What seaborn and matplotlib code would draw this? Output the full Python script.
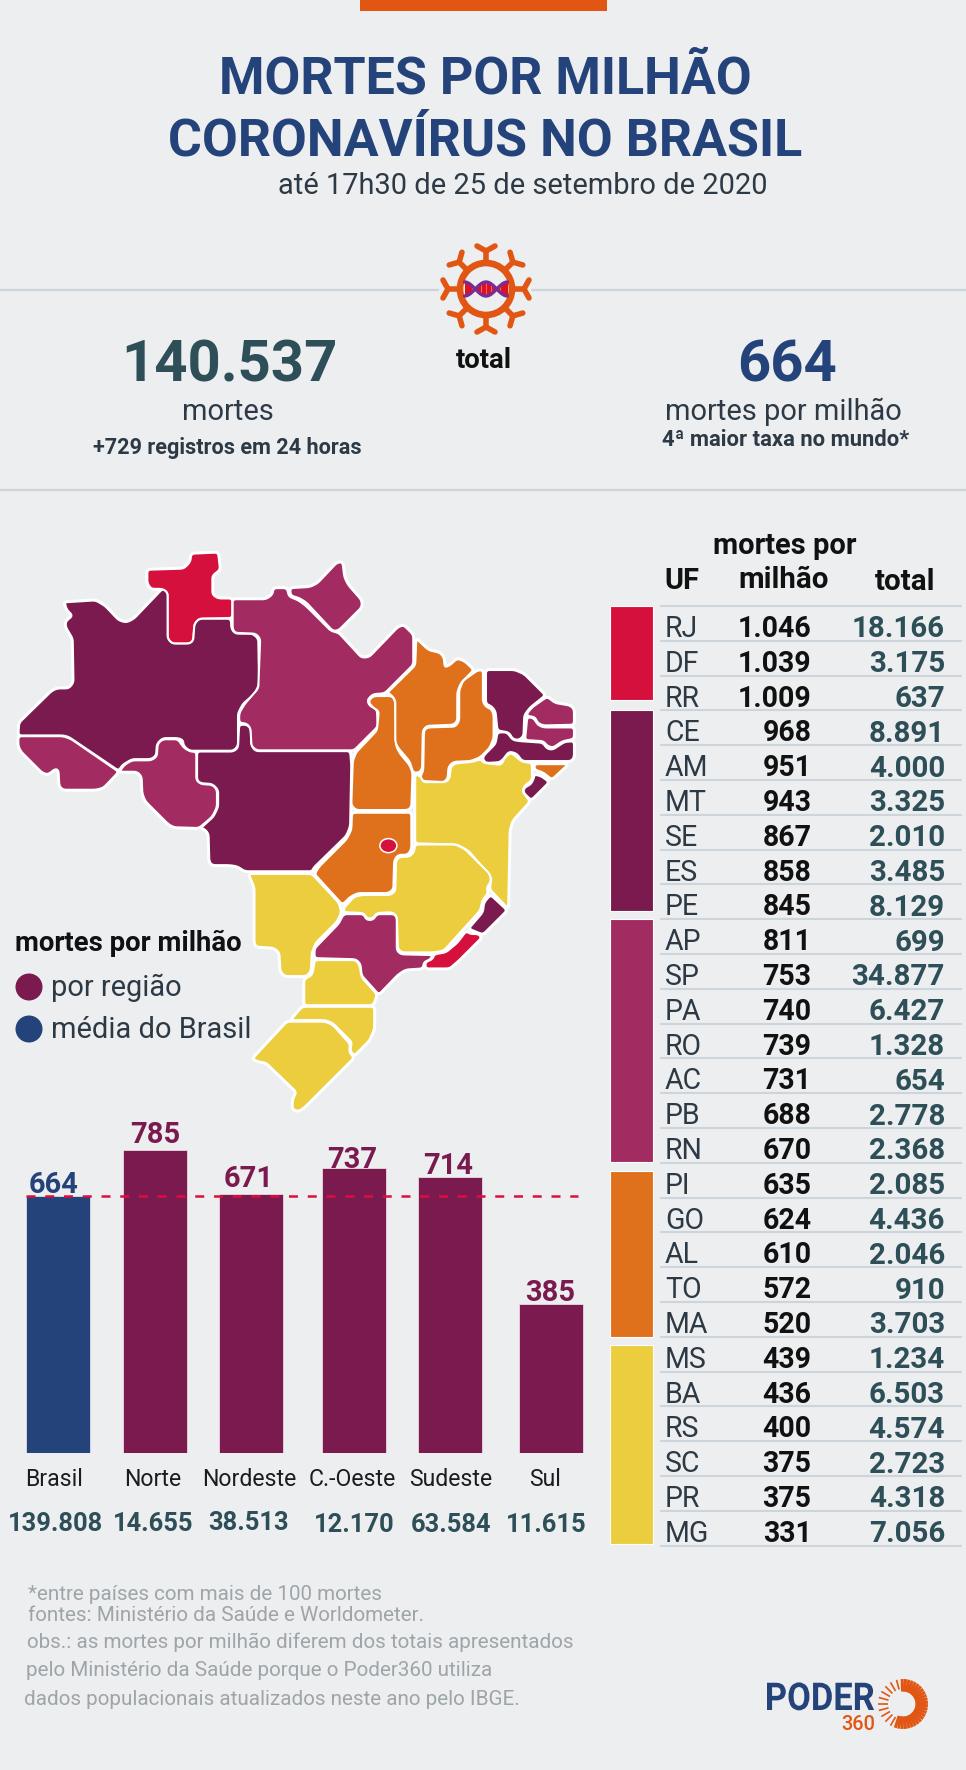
import numpy as np
import matplotlib
matplotlib.use('Agg')
import matplotlib.pyplot as plt
from matplotlib.patches import Polygon, Ellipse, Rectangle, Circle, PathPatch
from matplotlib.textpath import TextPath
from matplotlib.font_manager import FontProperties
from matplotlib.transforms import Affine2D
import seaborn as sns

# ---- data ----
UF = ['RJ', 'DF', 'RR', 'CE', 'AM', 'MT', 'SE', 'ES', 'PE', 'AP', 'SP', 'PA', 'RO', 'AC',
      'PB', 'RN', 'PI', 'GO', 'AL', 'TO', 'MA', 'MS', 'BA', 'RS', 'SC', 'PR', 'MG']
MORTES_MILHAO = ['1.046', '1.039', '1.009', '968', '951', '943', '867', '858', '845', '811', '753',
                 '740', '739', '731', '688', '670', '635', '624', '610', '572', '520', '439', '436',
                 '400', '375', '375', '331']
TOTAL_UF = ['18.166', '3.175', '637', '8.891', '4.000', '3.325', '2.010', '3.485', '8.129', '699',
            '34.877', '6.427', '1.328', '654', '2.778', '2.368', '2.085', '4.436', '2.046', '910',
            '3.703', '1.234', '6.503', '4.574', '2.723', '4.318', '7.056']
GRUPO_TAM = [3, 6, 7, 5, 6]

REGIOES = ['Brasil', 'Norte', 'Nordeste', 'C.-Oeste', 'Sudeste', 'Sul']
REGIAO_VALOR = [664, 785, 671, 737, 714, 385]
REGIAO_TOTAL = ['139.808', '14.655', '38.513', '12.170', '63.584', '11.615']

# state outlines, in map units
RR = [(385,130),(480,127),(497,110),(500,88),(570,85),(575,130),(555,145),(555,195),(570,205),(607,205),(607,256),(520,258),(508,272),(505,315),(495,323),(450,323),(438,310),(438,190),(425,180),(395,180),(385,165)]
AM = [(170,215),(250,210),(275,225),(310,262),(330,268),(350,258),(415,190),(425,180),(438,190),(438,310),(450,323),(495,323),(505,315),(508,272),(520,258),(603,258),(605,285),(615,297),(660,297),(675,310),(677,430),(665,455),(635,480),(622,505),(622,590),(610,603),(495,603),(480,590),(478,575),(465,570),(425,570),(410,585),(408,615),(395,625),(345,625),(320,640),(310,655),(180,567),(165,563),(48,563),(50,530),(135,447),(150,440),(180,440),(192,425),(190,310),(172,280),(172,265),(190,250),(175,235),(170,220)]
AC = [(48,565),(165,565),(185,572),(310,658),(270,700),(250,705),(165,705),(155,695),(153,655),(145,650),(125,665),(110,660),(55,605),(48,590)]
RO = [(312,658),(325,640),(345,628),(395,628),(410,618),(412,585),(425,573),(465,573),(480,595),(497,605),(513,606),(513,680),(525,690),(555,692),(567,705),(567,750),(555,775),(520,805),(455,803),(440,795),(380,735),(372,715),(370,670),(358,658)]
MT = [(515,605),(610,605),(622,595),(625,535),(645,535),(655,545),(657,590),(668,604),(915,604),(918,640),(915,800),(905,825),(820,908),(815,918),(640,918),(620,905),(600,902),(555,902),(547,892),(545,820),(535,808),(525,805),(558,775),(570,750),(570,705),(555,690),(525,688),(515,680)]
PA = [(608,207),(695,207),(712,195),(715,178),(750,178),(755,200),(780,210),(800,225),(865,290),(885,295),(945,360),(965,358),(1040,280),(1055,275),(1080,300),(1080,378),(1005,453),(975,455),(960,470),(965,485),(985,495),(987,540),(925,602),(670,602),(657,590),(655,545),(645,532),(625,530),(625,505),(640,480),(675,440),(680,310),(668,297),(615,295),(608,285)]
AP = [(758,178),(810,175),(830,165),(880,112),(895,110),(900,150),(910,170),(945,210),(945,228),(885,288),(870,290),(800,215),(780,203),(760,198)]
TO = [(975,460),(1025,460),(1033,475),(1035,590),(1045,610),(1070,640),(1078,660),(1075,750),(1065,758),(930,758),(918,745),(922,630),(930,608),(985,550),(990,500),(975,490),(962,475)]
MA = [(1088,310),(1120,340),(1150,347),(1160,360),(1162,385),(1175,380),(1195,362),(1215,370),(1238,392),(1205,425),(1195,450),(1195,525),(1185,535),(1115,538),(1105,550),(1103,650),(1095,660),(1080,660),(1070,630),(1040,595),(1033,580),(1033,470),(1020,455),(1012,452),(1085,380)]
PI = [(1248,393),(1262,393),(1262,475),(1270,488),(1285,495),(1290,510),(1290,570),(1280,595),(1255,620),(1230,630),(1185,632),(1172,645),(1170,675),(1160,685),(1105,682),(1098,672),(1106,655),(1108,550),(1118,542),(1190,540),(1200,525),(1200,445),(1210,420)]
CE = [(1270,392),(1345,392),(1370,403),(1425,458),(1385,490),(1370,510),(1368,565),(1355,575),(1340,572),(1330,555),(1300,550),(1295,500),(1285,487),(1270,480)]
RN = [(1430,462),(1450,478),(1490,485),(1500,495),(1500,535),(1420,537),(1405,530),(1398,515),(1378,512),(1378,505),(1390,490)]
PB = [(1378,515),(1395,518),(1405,535),(1420,542),(1500,542),(1500,572),(1470,578),(1445,595),(1430,590),(1420,578),(1372,575)]
PE = [(1300,555),(1325,555),(1340,575),(1360,578),(1418,582),(1430,598),(1445,600),(1475,580),(1500,578),(1500,620),(1492,630),(1365,630),(1350,610),(1330,605),(1315,625),(1305,633),(1270,635),(1262,625),(1265,615),(1295,585)]
AL = [(1397,638),(1485,638),(1442,678),(1420,660),(1397,652)]
SE = [(1397,665),(1415,670),(1435,685),(1388,732),(1368,712),(1370,700),(1388,690),(1395,675)]
BA = [(1085,665),(1100,670),(1105,685),(1165,685),(1175,675),(1178,645),(1190,636),(1235,632),(1255,625),(1265,635),(1310,640),(1320,620),(1335,608),(1350,620),(1365,632),(1390,635),(1390,680),(1370,695),(1365,710),(1385,735),(1340,785),(1332,810),(1328,1015),(1280,965),(1285,935),(1225,865),(1195,848),(1085,845)]
GO = [(920,765),(1075,765),(1075,860),(1065,875),(1040,875),(1030,890),(1028,965),(1015,975),(935,975),(915,985),(895,1005),(822,925),(835,905),(905,835),(918,810)]
MG = [(1085,848),(1190,848),(1215,860),(1280,925),(1283,945),(1272,960),(1275,975),(1260,995),(1255,1020),(1160,1125),(1135,1130),(1050,1130),(1040,1120),(1037,1035),(1025,1025),(985,1027),(975,1040),(960,1042),(950,1027),(900,1025),(898,1015),(925,985),(945,980),(1020,980),(1033,970),(1035,890),(1045,880),(1070,880),(1082,868)]
ES = [(1282,980),(1325,1020),(1262,1083),(1225,1068),(1262,1025),(1265,1000)]
RJ = [(1218,1075),(1230,1082),(1250,1082),(1258,1092),(1200,1150),(1175,1172),(1112,1172),(1112,1155),(1130,1148),(1135,1135),(1165,1130),(1195,1105)]
SP = [(898,1030),(950,1030),(958,1045),(975,1045),(985,1030),(1030,1030),(1037,1040),(1037,1125),(1048,1135),(1130,1137),(1125,1148),(1108,1155),(1105,1172),(1060,1175),(1040,1188),(990,1240),(945,1190),(942,1160),(930,1148),(822,1145),(822,1120),(885,1055)]
MS = [(650,925),(815,925),(885,1000),(892,1025),(880,1050),(825,1105),(815,1130),(812,1180),(800,1192),(745,1192),(733,1180),(730,1130),(715,1118),(670,1115),(665,1105),(665,960)]
PR = [(822,1150),(930,1150),(940,1165),(945,1195),(985,1240),(975,1268),(795,1268),(795,1200),(815,1190),(820,1170)]
SC = [(790,1272),(978,1272),(978,1330),(965,1360),(925,1400),(915,1385),(920,1365),(870,1315),(850,1307),(760,1307)]
RS = [(750,1311),(850,1311),(870,1320),(915,1370),(912,1390),(925,1405),(795,1535),(780,1545),(765,1540),(765,1515),(775,1495),(695,1418),(675,1415),(660,1408)]
MAPA = {'RR': RR, 'AM': AM, 'AC': AC, 'RO': RO, 'MT': MT, 'PA': PA, 'AP': AP, 'TO': TO, 'MA': MA,
        'PI': PI, 'CE': CE, 'RN': RN, 'PB': PB, 'PE': PE, 'AL': AL, 'SE': SE, 'BA': BA, 'GO': GO,
        'MG': MG, 'ES': ES, 'RJ': RJ, 'SP': SP, 'MS': MS, 'PR': PR, 'SC': SC, 'RS': RS}

# ---- style ----
BG = '#eceef0'
NAVY = '#24437a'
PURPLE = '#7a1a4e'
TEAL = '#2e4f58'
DARK = '#2d3a45'
ORANGE = '#e25613'
GRUPO_COR = ['#d6103c', PURPLE, '#a22c62', '#df711c', '#eccd3e']
RULE = '#ccd5da'

sns.set_theme(style='white')
plt.rcParams['font.family'] = ['Roboto', 'DejaVu Sans']

W, H = 966, 1770
fig = plt.figure(figsize=(W / 100, H / 100), dpi=100, facecolor=BG)

# overlay axes works in image pixels
ax = fig.add_axes([0, 0, 1, 1], facecolor='none', zorder=2)
ax.set_xlim(0, W)
ax.set_ylim(H, 0)
ax.axis('off')


def label(x, yc, s, size, **kw):
    """size in px, yc is the middle of the capitals"""
    kw.setdefault('color', DARK)
    ax.text(x, yc + 0.355 * size, s, fontsize=size * 0.72, va='baseline', **kw)


def round_corners(pts, d=9.0):
    """replace each corner with a short curve, d is how far it cuts in"""
    p = np.array(pts, dtype=float)
    out = []
    n = len(p)
    for i in range(n):
        a, b, c = p[i - 1], p[i], p[(i + 1) % n]
        d1 = min(d, 0.45 * np.linalg.norm(a - b))
        d2 = min(d, 0.45 * np.linalg.norm(c - b))
        s = b + (a - b) / np.linalg.norm(a - b) * d1
        e = b + (c - b) / np.linalg.norm(c - b) * d2
        for t in np.linspace(0, 1, 6):
            out.append((1 - t) ** 2 * s + 2 * t * (1 - t) * b + t ** 2 * e)
    return np.array(out)


# ---- header ----
ax.add_patch(Rectangle((360, 0), 247, 11, fc=ORANGE, ec='none'))
label(485, 75, 'MORTES POR MILHÃO', 52, ha='center', color=NAVY, fontweight='bold')
label(485, 137, 'CORONAVÍRUS NO BRASIL', 52, ha='center', color=NAVY, fontweight='bold')
label(523, 184, 'até 17h30 de 25 de setembro de 2020', 29, ha='center')

ax.plot([0, 438], [290, 290], color=RULE, lw=1.6)
ax.plot([532, W], [290, 290], color=RULE, lw=1.6)
ax.plot([0, W], [490, 490], color=RULE, lw=1.6)

# virus icon
cx, cy = 486, 289
ax.add_patch(Circle((cx, cy), 26, fc='none', ec=ORANGE, lw=4.8))
for ang in np.deg2rad(np.arange(0, 360, 45)):
    u = np.array([np.cos(ang), np.sin(ang)])
    v = np.array([-u[1], u[0]])
    c = np.array([cx, cy])
    a, b = c + 28 * u, c + 38 * u
    ax.plot([a[0], b[0]], [a[1], b[1]], color=ORANGE, lw=4.0, solid_capstyle='round')
    for side in (-1, 1):
        e = c + 43 * u + side * 9 * v
        ax.plot([b[0], e[0]], [b[1], e[1]], color=ORANGE, lw=4.0, solid_capstyle='round')
xs = np.linspace(-21.5, 21.5, 60)
wave = 7 * np.cos(np.pi * xs / 21.5)
ax.fill_between(cx + xs, cy - wave, cy + wave, color='#e01020', lw=0, zorder=2)
for tick_x in (-14, -5, 0, 5, 14):
    ax.plot([cx + tick_x] * 2, [cy - 8, cy + 8], color=BG, lw=0.6, zorder=2.2, alpha=0.5)
ax.plot(cx + xs, cy - wave, color='#7a2d90', lw=2.4, zorder=3)
ax.plot(cx + xs, cy + wave, color='#7a2d90', lw=2.4, zorder=3)

label(484, 358, 'total', 27.5, ha='center', color='#111111', fontweight='bold')
label(229, 361, '140.537', 58, ha='center', color=TEAL, fontweight='bold')
label(228, 410, 'mortes', 29, ha='center')
label(227, 446, '+729 registros em 24 horas', 21.7, ha='center', fontweight='bold')
label(787, 361, '664', 58, ha='center', color=NAVY, fontweight='bold')
label(783, 410, 'mortes por milhão', 29, ha='center')
label(785.5, 438, '4ª maior taxa no mundo*', 22, ha='center', fontweight='bold')

# ---- map ----
MAP_K = 1568 / 600
uf_cor = {}
ini = 0
for tam, cor in zip(GRUPO_TAM, GRUPO_COR):
    for uf in UF[ini:ini + tam]:
        uf_cor[uf] = cor
    ini += tam

formas = {uf: round_corners(pts) / MAP_K + np.array([0, 520]) for uf, pts in MAPA.items()}
# white underlay closes the small gaps where three states meet
for uf, p in formas.items():
    ax.add_patch(Polygon(p, closed=True, fc='white', ec='white', lw=2.8, joinstyle='round', zorder=1))
for uf, p in formas.items():
    ax.add_patch(Polygon(p, closed=True, fc=uf_cor[uf], ec='white', lw=1.5, joinstyle='round', zorder=1.5))
ax.add_patch(Ellipse((1015 / MAP_K, 520 + 851 / MAP_K), 17, 14, fc=uf_cor['DF'], ec='white', lw=1.1, zorder=1.6))

# legend
label(15, 941, 'mortes por milhão', 27.5, color='#111111', fontweight='bold')
ax.add_patch(Circle((29, 987), 13.5, fc=PURPLE, ec='none'))
ax.add_patch(Circle((29, 1029), 13.5, fc=NAVY, ec='none'))
label(51, 986, 'por região', 29)
label(51, 1028, 'média do Brasil', 29)

# ---- table ----
ROW_TOP, ROW_H = 606, 34.8
label(785, 544, 'mortes por', 29, ha='center', color='#111111', fontweight='bold')
label(664, 579, 'UF', 29, color='#111111', fontweight='bold')
label(784, 578, 'milhão', 29.5, ha='center', color='#111111', fontweight='bold')
label(905, 580, 'total', 29.5, ha='center', color='#111111', fontweight='bold')

for i in range(len(UF) + 1):
    y = ROW_TOP + i * ROW_H
    ax.plot([661, 961], [y, y], color=RULE, lw=1.5, zorder=1)
for i, (uf, m, t) in enumerate(zip(UF, MORTES_MILHAO, TOTAL_UF)):
    yc = ROW_TOP + (i + 0.5) * ROW_H + 3.5
    label(665, yc, uf, 28.5)
    label(811.5, yc, m, 28.5, ha='right', color='#111111', fontweight='bold')
    label(945, yc, t, 29.5, ha='right', color=TEAL, fontweight='bold')

# colour strip
STRIP_EDGES = [(606, 700), (710, 911), (919, 1162), (1171, 1337), (1345, 1544)]
for (y0, y1), cor in zip(STRIP_EDGES, GRUPO_COR):
    ax.add_patch(Rectangle((610, y0), 43, y1 - y0, fc=cor, ec='white', lw=0.8))

# ---- bars ----
BAR_BASE, BAR_TOP_PX = 1453, 1100
PX_PER_DEATH = 0.3865
ax_bar = fig.add_axes([0, 1 - BAR_BASE / H, 1, (BAR_BASE - BAR_TOP_PX) / H], facecolor='none', zorder=1)
bar_x = [58, 155.4, 251.4, 353.6, 449.6, 550.7]
bar_pal = [NAVY, PURPLE, PURPLE, PURPLE, PURPLE, PURPLE]
sns.barplot(x=bar_x, y=REGIAO_VALOR, hue=REGIOES, palette=bar_pal, native_scale=True, width=64 / 96,
            dodge=False, legend=False, saturation=1, edgecolor='#f4e9ef', linewidth=0.5, ax=ax_bar)
ax_bar.set_xlim(0, W)
ax_bar.set_ylim(0, (BAR_BASE - BAR_TOP_PX) / PX_PER_DEATH)
ax_bar.axis('off')
ax_bar.plot([26, 578], [REGIAO_VALOR[0]] * 2, color='#dc0f3c', lw=1.8, dashes=(3.6, 3.9), zorder=5)

val_x = [54, 155, 249, 352.5, 448, 550]
val_y = [1182.7, 1132.7, 1177, 1157.7, 1164, 1291]
name_x = [54, 153, 249, 352, 450.5, 545]
tot_x = [55.5, 153, 249, 354, 451, 546.5]
tot_y = [1521.7, 1521.7, 1521, 1522.7, 1522.7, 1522.7]
for i, r in enumerate(REGIOES):
    label(val_x[i], val_y[i], str(REGIAO_VALOR[i]), 29, ha='center', fontweight='bold',
          color=NAVY if i == 0 else PURPLE)
    label(name_x[i], 1478, r, 23, ha='center', color='#1c1c1c')
    label(tot_x[i], tot_y[i], REGIAO_TOTAL[i], 25.5, ha='center', color=TEAL, fontweight='bold')

# ---- footer ----
GREY = '#9ea5a9'
label(28, 1593, '*entre países com mais de 100 mortes', 20.6, color=GREY)
label(28, 1614, 'fontes: Ministério da Saúde e Worldometer.', 20.6, color=GREY)
label(27, 1641, 'obs.: as mortes por milhão diferem dos totais apresentados', 20.6, color=GREY)
label(26, 1669, 'pelo Ministério da Saúde porque o Poder360 utiliza', 20.6, color=GREY)
label(24, 1698, 'dados populacionais atualizados neste ano pelo IBGE.', 20.6, color=GREY)

# logo, PODER is condensed so it goes through a text path
fp = FontProperties(family='Roboto', weight='bold')
tp = TextPath((0, 0), 'PODER', size=38, prop=fp)
bb = tp.get_extents()
logo_tf = Affine2D().translate(-bb.x0, 0).scale(107 / bb.width, -28 / bb.height).translate(767, 1710)
ax.add_patch(PathPatch(tp, fc=NAVY, ec='none', transform=logo_tf + ax.transData))
label(875, 1723, '360', 20, ha='right', color=ORANGE, fontweight='medium')
# sun: thick rays on the right, thin and sparse ones on the left
sx, sy = 903, 1704
for deg in np.arange(-92, 112, 8):
    ang = np.deg2rad(deg)
    ax.plot([sx + 12.5 * np.cos(ang), sx + 25 * np.cos(ang)], [sy + 12.5 * np.sin(ang), sy + 25 * np.sin(ang)],
            color=ORANGE, lw=2.2, solid_capstyle='butt')
for deg in np.arange(120, 260, 15):
    ang = np.deg2rad(deg)
    ax.plot([sx + 15 * np.cos(ang), sx + 25 * np.cos(ang)], [sy + 15 * np.sin(ang), sy + 25 * np.sin(ang)],
            color=ORANGE, lw=1.2, solid_capstyle='butt')

fig.savefig('out.png', dpi=100, facecolor=BG)
